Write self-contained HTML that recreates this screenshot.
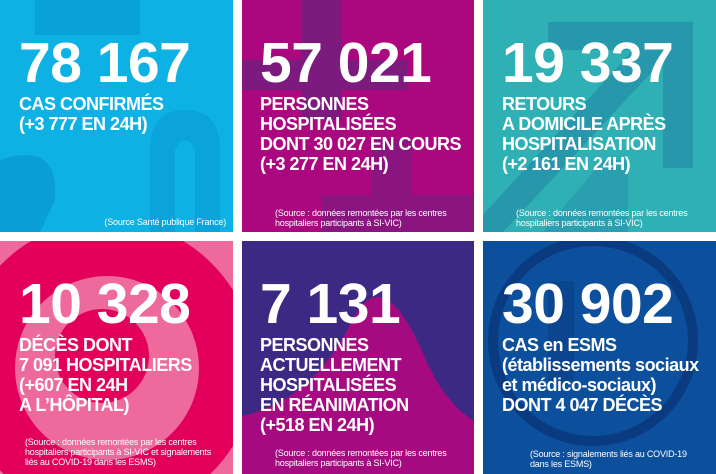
<!DOCTYPE html>
<html><head><meta charset="utf-8"><style>
html,body{margin:0;padding:0;background:#fff;width:716px;height:474px;overflow:hidden;}
body{position:relative;font-family:"Liberation Sans",sans-serif;color:#fff;}
.tile{position:absolute;overflow:hidden;}
.tile svg{position:absolute;left:0;top:0;display:block;}
.num{position:absolute;font-weight:bold;font-size:57px;line-height:57px;white-space:nowrap;letter-spacing:-0.5px;}
.lbl{position:absolute;font-weight:bold;font-size:18px;line-height:20px;white-space:nowrap;letter-spacing:-0.5px;}
.src{position:absolute;font-size:9px;line-height:10px;white-space:nowrap;letter-spacing:-0.2px;}
</style></head><body>

<div class="tile" style="left:0;top:0;width:233px;height:232px;background:#0db1e3;">
<svg width="233" height="232"><rect x="35" y="0" width="105" height="35" fill="#09a2d8"/><path d="M0 160 Q60 140 55 200 L40 232 L0 232Z" fill="#0a9ed6"/><path d="M150 232 L150 150 Q150 110 185 110 Q220 110 220 150 L220 232 L195 232 L195 150 Q185 130 175 150 L175 232Z" fill="#0aa4da"/></svg>
<div class="num" style="left:19px;top:35px;">78 167</div>
<div class="lbl" style="left:19px;top:94px;">CAS CONFIRMÉS<br>(+3 777 EN 24H)</div>
<div class="src" style="right:7px;top:217px;">(Source Santé publique France)</div>
</div>

<div class="tile" style="left:242px;top:0;width:232px;height:232px;background:#ab087f;">
<svg width="232" height="232"><rect x="60" y="0" width="40" height="120" fill="#7c1a7e"/><rect x="0" y="60" width="165" height="30" fill="#7c1a7e"/><rect x="130" y="140" width="40" height="92" fill="#8a1480"/><rect x="80" y="195" width="152" height="37" fill="#8a1480"/></svg>
<div class="num" style="left:18px;top:35px;">57 021</div>
<div class="lbl" style="left:18px;top:94px;">PERSONNES<br>HOSPITALISÉES<br>DONT 30 027 EN COURS<br>(+3 277 EN 24H)</div>
<div class="src" style="left:33px;top:208px;">(Source : données remontées par les centres<br>hospitaliers participants à SI-VIC)</div>
</div>

<div class="tile" style="left:483px;top:0;width:233px;height:232px;background:#2eb0b5;">
<svg width="233" height="232"><path d="M65 22 L210 22 L210 168 L180 168 L180 60 L20 232 L0 232 L0 215 L150 50 L65 50Z" fill="#2797ac"/><path d="M60 232 L120 160 L145 160 L145 232Z" fill="#2a9fb0"/></svg>
<div class="num" style="left:19px;top:35px;">19 337</div>
<div class="lbl" style="left:19px;top:94px;">RETOURS<br>A DOMICILE APRÈS<br>HOSPITALISATION<br>(+2 161 EN 24H)</div>
<div class="src" style="left:33px;top:208px;">(Source : données remontées par les centres<br>hospitaliers participants à SI-VIC)</div>
</div>

<div class="tile" style="left:0;top:241px;width:233px;height:233px;background:#ee6a9c;">
<svg width="233" height="233"><circle cx="107" cy="127" r="120" fill="none" stroke="#e3005a" stroke-width="56"/><circle cx="102" cy="115" r="47" fill="#e3005a"/></svg>
<div class="num" style="left:19px;top:35px;">10 328</div>
<div class="lbl" style="left:19px;top:94px;">DÉCÈS DONT<br>7 091 HOSPITALIERS<br>(+607 EN 24H<br>A L’HÔPITAL)</div>
<div class="src" style="left:25px;top:196px;">(Source : données remontées par les centres<br>hospitaliers participants à SI-VIC et signalements<br>liés au COVID-19 dans les ESMS)</div>
</div>

<div class="tile" style="left:242px;top:241px;width:232px;height:233px;background:#3c2984;">
<svg width="232" height="233"><path d="M0 233 L0 175 Q70 160 110 80 Q140 20 180 110 Q200 160 232 180 L232 233Z" fill="#a50a80"/></svg>
<div class="num" style="left:18px;top:35px;">7 131</div>
<div class="lbl" style="left:18px;top:94px;">PERSONNES<br>ACTUELLEMENT<br>HOSPITALISÉES<br>EN RÉANIMATION<br>(+518 EN 24H)</div>
<div class="src" style="left:33px;top:207px;">(Source : données remontées par les centres<br>hospitaliers participants à SI-VIC)</div>
</div>

<div class="tile" style="left:483px;top:241px;width:233px;height:233px;background:#0c4f9d;">
<svg width="233" height="233"><circle cx="110" cy="100" r="100" fill="none" stroke="#0a3b80" stroke-width="10"/><rect x="65" y="40" width="26" height="100" fill="#0b4590"/></svg>
<div class="num" style="left:19px;top:35px;">30 902</div>
<div class="lbl" style="left:19px;top:94px;">CAS en ESMS<br>(établissements sociaux<br>et médico-sociaux)<br>DONT 4 047 DÉCÈS</div>
<div class="src" style="left:47px;top:208px;">(Source : signalements liés au COVID-19<br>dans les ESMS)</div>
</div>

</body></html>
